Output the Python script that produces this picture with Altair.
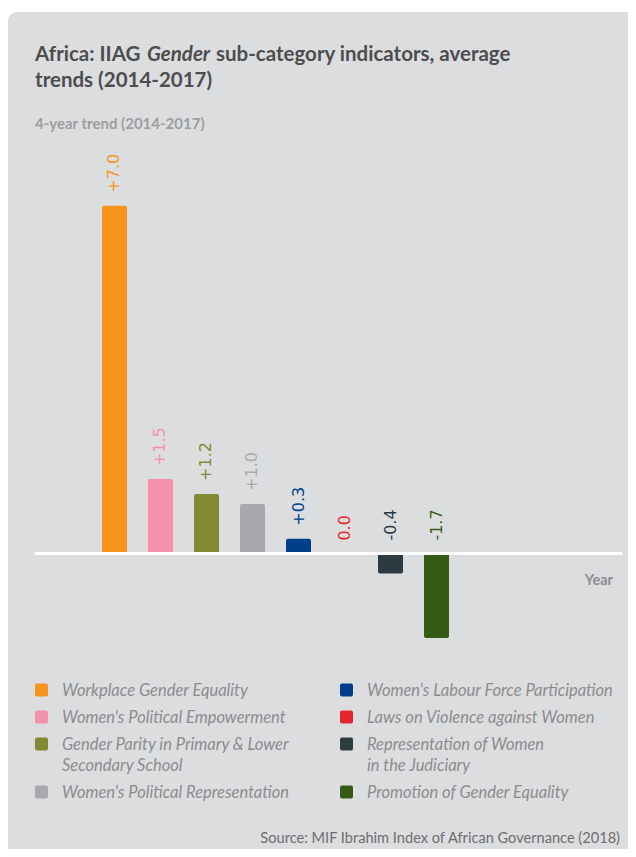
import altair as alt
import pandas as pd

categories = [
    "Workplace Gender Equality",
    "Women's Political Empowerment",
    "Gender Parity in Primary & Lower Secondary School",
    "Women's Political Representation",
    "Women's Labour Force Participation",
    "Laws on Violence against Women",
    "Representation of Women in the Judiciary",
    "Promotion of Gender Equality",
]
values = [7.0, 1.5, 1.2, 1.0, 0.3, 0.0, -0.4, -1.7]
labels = ["+7.0", "+1.5", "+1.2", "+1.0", "+0.3", "0.0", "-0.4", "-1.7"]
colors = ["#f7941d", "#f391ac", "#818a33", "#a7a9ac", "#003f8a", "#e4262b", "#2c3a41", "#345a14"]
legend_text = [
    "Workplace Gender Equality",
    "Women's Political Empowerment",
    "Gender Parity in Primary & Lower\nSecondary School",
    "Women's Political Representation",
    "Women's Labour Force Participation",
    "Laws on Violence against Women",
    "Representation of Women\nin the Judiciary",
    "Promotion of Gender Equality",
]

df = pd.DataFrame({"indicator": categories, "value": values, "label": labels})

W, H = 587, 497
PAD = {"left": 27, "top": 148, "right": 6, "bottom": 196}
FONT = "Lato"
PANEL = "#dcdddf"

# ---- manual two-column legend layout (4 rows per column) ----
ROWS = 4
COL_X = [0, 305]
ROW0 = 534          # centre of first legend row, plot coords
ROW_STEP = 27
LINE_H = 21
lines = [t.count("\n") + 1 for t in legend_text]
row_lines = [max(lines[i] for i in range(len(lines)) if i % ROWS == r) for r in range(ROWS)]
row_y = [ROW0]
for r in range(1, ROWS):
    row_y.append(row_y[-1] + ROW_STEP + LINE_H * (row_lines[r - 1] - 1))
leg = pd.DataFrame({
    "indicator": categories,
    "text": legend_text,
    "lx": [COL_X[i // ROWS] for i in range(len(categories))],
    "ly": [row_y[i % ROWS] for i in range(len(categories))],
})
leg["lx2"] = leg["lx"] + 13
leg["ly1"] = leg["ly"] - 6.5
leg["ly2"] = leg["ly"] + 6.5
leg["tx"] = leg["lx"] + 27
leg["ty"] = leg["ly"] + 5.5

xenc = alt.X("indicator:N", sort=categories, axis=None,
             scale=alt.Scale(range=[56.5, 424.5], paddingInner=0.4565, paddingOuter=0.228))
yscale = alt.Scale(domain=[-2, 8], nice=False, zero=False)
yenc = alt.Y("value:Q", axis=None, scale=yscale)
color_scale = alt.Scale(domain=categories, range=colors)
cenc = alt.Color("indicator:N", scale=color_scale, legend=None)

base = alt.Chart(df)

panel = alt.Chart(pd.DataFrame({"a": [0]})).mark_rect(
    color=PANEL, cornerRadiusTopLeft=9
).encode(
    x=alt.value(-PAD["left"]), x2=alt.value(W + PAD["right"]),
    y=alt.value(-PAD["top"] + 4), y2=alt.value(H + PAD["bottom"]),
)

bars = base.mark_bar(cornerRadius=2).encode(x=xenc, y=yenc, y2=alt.datum(0), color=cenc)

texts = base.transform_calculate(pos="max(datum.value, 0)").mark_text(
    angle=270, align="left", baseline="middle", dx=13, font="DejaVu Sans", fontSize=16
).encode(
    x=xenc,
    y=alt.Y("pos:Q", axis=None, scale=yscale),
    text="label:N",
    color=cenc,
)

zero = alt.Chart(df).mark_rule(color="white", strokeWidth=2).encode(y=alt.datum(0))

leg_sq = alt.Chart(leg).mark_rect(cornerRadius=2).encode(
    x=alt.X("lx:Q", scale=None), x2="lx2:Q",
    y=alt.Y("ly1:Q", scale=None), y2="ly2:Q",
    color=cenc,
)
leg_tx = alt.Chart(leg).mark_text(
    align="left", baseline="alphabetic", font=FONT, fontSize=16.5, fontStyle="italic",
    color="#8c8c8e", lineBreak="\n", lineHeight=LINE_H,
).encode(
    x=alt.X("tx:Q", scale=None), y=alt.Y("ty:Q", scale=None), text="text:N",
)


def txt(s, x, y, size, color, weight="normal", style="normal", align="left"):
    return alt.Chart(pd.DataFrame({"t": [s]})).mark_text(
        align=align, baseline="alphabetic", font=FONT, fontSize=size, color=color,
        fontWeight=weight, fontStyle=style
    ).encode(text="t:N", x=alt.value(x), y=alt.value(y))


TC = "#4d4d4f"
t1a = txt("Africa: IIAG", 0, -95, 20.5, TC, "bold")
t1b = txt("Gender", 112, -95, 20.5, TC, "bold", "italic")
t1c = txt("sub-category indicators, average", 181, -95, 20.5, TC, "bold")
t2 = txt("trends (2014-2017)", 0, -69, 20.5, TC, "bold")
sub = txt("4-year trend (2014-2017)", 0, -27, 15, "#9d9d9f", "bold")
year = txt("Year", 578, 429, 14.5, "#8d8d8f", "bold", align="right")
src = txt("Source: MIF Ibrahim Index of African Governance (2018)", 585, 687, 14.6, "#6d6e70", align="right")

chart = alt.layer(panel, bars, texts, zero, leg_sq, leg_tx, t1a, t1b, t1c, t2, sub, year, src).properties(
    width=W, height=H,
    padding=PAD,
    autosize=alt.AutoSizeParams(type="none"),
    background="white",
).configure_view(stroke=None)

chart.save("out.html", embed_options={"renderer": "svg", "actions": False})
